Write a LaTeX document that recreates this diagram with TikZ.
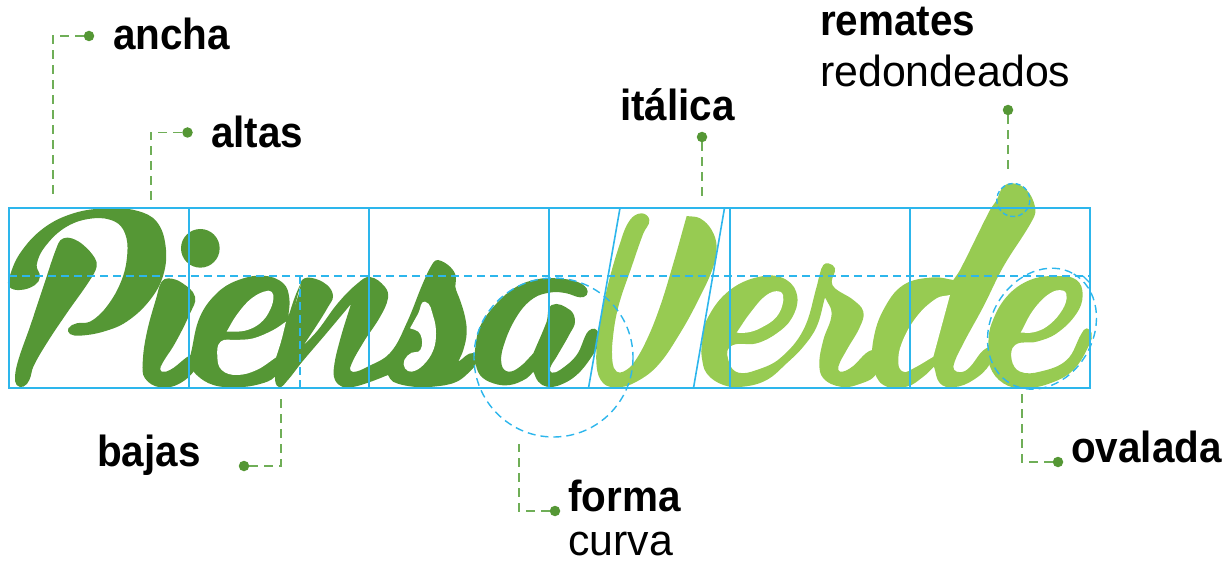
\documentclass[tikz,border=0pt]{standalone}
\usepackage{fontspec}
\setmainfont{Liberation Sans}
\newfontfamily\labb[FakeStretch=.93]{Liberation Sans Bold}
\newfontfamily\labr[FakeStretch=.985]{Liberation Sans}
\definecolor{dkgreen}{HTML}{559735}
\definecolor{ltgreen}{HTML}{97CB52}
\definecolor{guide}{HTML}{2DB6EC}
\definecolor{lead}{HTML}{6FAE57}
\tikzset{
  glyphdark/.style={fill=dkgreen,draw=none},
  glyphlight/.style={fill=ltgreen,draw=none},
  counter/.style={fill=white,draw=none},
  gridline/.style={draw=guide,line width=1.6pt},
  guidedash/.style={draw=guide,line width=1.4pt,dash pattern=on 8pt off 5pt},
  leader/.style={draw=lead,line width=1.3pt,dash pattern=on 9pt off 6pt},
  dot/.style={circle,fill=dkgreen,draw=none,minimum size=10.5pt,inner sep=0pt},
  boldlabel/.style={anchor=base west,inner sep=0pt,text=black,font=\labb\fontsize{43.5}{44}\selectfont},
  reglabel/.style={anchor=base west,inner sep=0pt,text=black,font=\labr\fontsize{43.5}{44}\selectfont}
}
% closed outline through x/y points; a doubled point makes a sharp corner
\newcommand{\traceglyph}[2]{%
  \gdef\gxs{}\gdef\gys{}%
  \foreach \gA/\gB [count=\gC] in {#2}{%
    \ifnum\gC=1 \xdef\gxs{\gA}\xdef\gys{\gB}\else\xdef\gxs{\gxs,\gA}\xdef\gys{\gys,\gB}\fi
    \xdef\gn{\gC}}%
  \pgfmathtruncatemacro\gm{\gn-1}%
  \gdef\gtx{}\gdef\gty{}%
  \foreach \gI in {0,...,\gm}{%
    \pgfmathtruncatemacro\gP{mod(\gI+\gn-1,\gn)}%
    \pgfmathtruncatemacro\gQ{mod(\gI+1,\gn)}%
    \pgfmathsetmacro\gDx{{\gxs}[\gQ]-{\gxs}[\gP]}%
    \pgfmathsetmacro\gDy{{\gys}[\gQ]-{\gys}[\gP]}%
    \pgfmathsetmacro\gLn{max(veclen(\gDx,\gDy),.01)}%
    \pgfmathsetmacro\gTx{\gDx/\gLn}%
    \pgfmathsetmacro\gTy{\gDy/\gLn}%
    \ifnum\gI=0 \xdef\gtx{\gTx}\xdef\gty{\gTy}\else\xdef\gtx{\gtx,\gTx}\xdef\gty{\gty,\gTy}\fi}%
  \pgfmathsetmacro\gSx{{\gxs}[0]}\pgfmathsetmacro\gSy{{\gys}[0]}%
  \fill[#1] (\gSx,\gSy) \foreach \gI in {0,...,\gm}{%
    \pgfextra{%
      \pgfmathtruncatemacro\gQ{mod(\gI+1,\gn)}%
      \pgfmathsetmacro\gUx{{\gxs}[\gI]}\pgfmathsetmacro\gUy{{\gys}[\gI]}%
      \pgfmathsetmacro\gVx{{\gxs}[\gQ]}\pgfmathsetmacro\gVy{{\gys}[\gQ]}%
      \pgfmathsetmacro\gLn{.36*veclen(\gVx-\gUx,\gVy-\gUy)}%
      \pgfmathsetmacro\gAx{\gUx+\gLn*{\gtx}[\gI]}\pgfmathsetmacro\gAy{\gUy+\gLn*{\gty}[\gI]}%
      \pgfmathsetmacro\gBx{\gVx-\gLn*{\gtx}[\gQ]}\pgfmathsetmacro\gBy{\gVy-\gLn*{\gty}[\gQ]}%
    }
    .. controls (\gAx,\gAy) and (\gBx,\gBy) .. (\gVx,\gVy)
  } -- cycle;%
}
\begin{document}
\begin{tikzpicture}[x=1pt,y=-1pt]
\useasboundingbox (0,0) rectangle (1231,561);
%% ---- Piensa (zoom 1 coordinates)
\begin{scope}[shift={(0,190)},x=.33333pt,y=-.33333pt]
\traceglyph{glyphdark}{190/145,215/145,250/165,285/205,290/230,270/270,200/370,140/460,100/530,88/570,70/590,50/585,45/560,55/510,90/410,130/290,175/160}
\traceglyph{glyphdark}{27/265,60/190,130/115,220/70,320/55,410/62,470/95,497/170,490/255,450/330,380/395,310/425,240/437,210/432,205/415,230/400,270/395,320/350,365/270,382/190,375/130,345/95,280/85,200/110,135/170,110/225,120/260,105/285,60/300,27/290}
\traceglyph{glyphdark}{505/265,545/278,585/320,570/370,525/460,482/530,485/545,510/540,590/490,590/530,540/580,480/592,435/565,428/520,440/430,470/320,485/275}
\fill[glyphdark] (601,175) circle[radius=58];
\end{scope}
%% e of Piensa with first stem of n (zoom 5)
\begin{scope}[shift={(180,260)},x=.33333pt,y=-.33333pt]
\traceglyph{glyphdark}{35/270,60/170,110/100,170/62,250/47,310/70,328/115,325/170,325/170,345/110,362/70,362/70,330/200,310/300,285/350,240/372,170/382,100/375,50/345,30/310}
\end{scope}
%% n and s together (page coordinates)
\traceglyph{glyphdark}{302/280,312/278,327/285,333/296,328/307,315/328,303/346,303/346,318/330,338/303,358/283,370/277,385/287,388/298,380/317,363/343,350/368,353/372,367/367,390/353,406.7/323,423/283,433/263,438/260,450/266.7,456/276.7,455.3/286.7,460/300,465/316.7,466.7/333,463.3/350,458.3/361.7,458.3/361.7,473.3/353,476/363,473.3/368,456.7/381.7,433/386.7,413/386.7,393/381.7,388/375,388/375,370/382,353/387,343/387,335/380,334/367,340/340,351/304,351/304,325/335,302/362,287/381,279/387,275/378,278/360,290/320,300/290}
\begin{scope}[shift={(180,260)},x=.33333pt,y=-.33333pt]
\traceglyph{counter}{140/215,140/215,170/165,215/115,265/92,280/105,270/150,240/190,195/212}
\traceglyph{counter}{122/245,170/240,220/235,280/210,318/185,318/185,303/245,288/292,288/292,230/330,170/345,125/330,112/290}
\end{scope}
%% s counter and a (zoom 6)
\begin{scope}[shift={(370,250)},x=.33333pt,y=-.33333pt]
\traceglyph{counter}{165/155,190/200,198/250,190/300,160/345,125/365,105/355,103/330,125/308,145/305,155/290,155/265,145/245,120/235,120/235,145/190}
\traceglyph{glyphdark}{315/300,330/230,380/160,440/110,500/88,560/85,620/95,650/115,650/135,630/142,590/130,545/127,490/145,440/200,400/290,395/345,415/365,450/350,490/310,490/310,530/215,545/165,600/180,615/215,600/250,560/320,540/355,545/368,570/360,620/315,650/250,665/237,680/240,690/270,665/320,620/375,570/405,530/410,505/395,490/365,490/365,470/385,420/405,370/400,330/375,315/330}
\end{scope}
%% ---- Verde (zoom 3 coordinates)
\begin{scope}[shift={(590,190)},x=.33333pt,y=-.33333pt]
\traceglyph{glyphlight}{155/70,178/90,160/130,125/230,85/350,68/450,68/520,80/545,100/545,130/520,170/450,210/350,250/220,290/78,290/78,330/85,365/120,380/170,370/230,330/320,270/430,200/530,130/580,80/592,40/580,20/530,25/430,50/300,90/160,120/90}
\traceglyph{glyphlight}{335/470,350/390,420/300,520/258,590/270,622/320,605/385,560/430,500/460,420/470,418/520,445/548,500/540,570/505,640/420,680/290,690/250,700/225,715/220,735/235,725/275,735/295,790/330,820/365,810/410,770/480,745/530,750/545,780/535,860/480,860/550,800/585,750/590,700/565,688/520,700/450,725/370,705/322,705/322,680/410,640/470,590/520,530/570,460/590,400/585,350/550,335/500}
\traceglyph{counter}{440/428,440/428,480/370,530/315,570/305,580/330,560/380,510/415,470/428}
\end{scope}
%% d and final e (zoom 4 coordinates)
\begin{scope}[shift={(890,170)},x=.33333pt,y=-.33333pt]
\traceglyph{glyphlight}{-50/510,-20/420,40/345,130/322,190/330,190/330,210/300,300/120,320/90,340/50,370/40,410/60,435/110,430/145,340/290,280/410,215/530,190/590,200/605,230/600,300/530,300/580,250/630,190/652,150/640,132/590,132/590,100/620,50/650,-20/645,-50/590}
\traceglyph{counter}{180/375,180/375,140/385,80/440,35/520,25/580,40/605,70/595,130/560,130/560}
\traceglyph{glyphlight}{295/520,305/460,350/380,420/330,500/318,560/330,578/375,560/430,500/490,440/515,375/525,365/570,390/605,450/605,530/570,575/490,590/475,605/490,600/520,550/600,480/640,400/655,340/640,300/590}
\traceglyph{counter}{392/488,392/488,430/420,480/370,520/362,530/385,510/430,470/470,430/487}
\end{scope}
%% ---- guides
\draw[gridline] (9,208) rectangle (1090,388);
\draw[gridline] (189,208) -- (189,388);
\draw[gridline] (369,208) -- (369,388);
\draw[gridline] (549,208) -- (549,388);
\draw[gridline] (730,208) -- (730,388);
\draw[gridline] (910,208) -- (910,388);
\draw[gridline] (620,208) -- (588.5,388);
\draw[gridline] (724.5,208) -- (693.5,388);
\draw[guidedash] (9,276) -- (1090,276);
\draw[guidedash] (300,276) -- (300,387);
\draw[draw=guide,line width=1.2pt] (1083,276) -- (1090,283);
\draw[guidedash] (553.5,357.5) circle[radius=79.5];
\draw[guidedash,dash pattern=on 5pt off 3pt] (1013.3,200) circle[radius=16.5];
\draw[guidedash,shift={(1042,328.7)},rotate=60] (0,0) circle[x radius=63.3,y radius=51.2];
%% ---- leaders and labels
\node[dot] (dancha) at (89,36) {};
\coordinate (eancha) at (53,200);
\draw[leader] (dancha) -| (eancha);
\node[boldlabel] (lancha) at (113,50) {ancha};
\node[dot] (daltas) at (187.5,132.5) {};
\coordinate (ealtas) at (151,200);
\draw[leader] (daltas) -| (ealtas);
\node[boldlabel] (laltas) at (211,147.5) {altas};
\node[dot] (dital) at (702,137) {};
\coordinate (eital) at (702,200);
\draw[leader] (dital) -- (eital);
\node[boldlabel] (lital) at (620,121) {itálica};
\node[dot] (dremat) at (1008,110) {};
\coordinate (eremat) at (1008,175);
\draw[leader] (dremat) -- (eremat);
\node[boldlabel] (lremat) at (820,36) {remates};
\node[reglabel] (lredon) at (820,86.5) {redondeados};
\node[dot] (dbajas) at (244,466) {};
\coordinate (ebajas) at (281,398);
\draw[leader] (dbajas) -| (ebajas);
\node[boldlabel] (lbajas) at (97,466) {bajas};
\node[dot] (dforma) at (555,511) {};
\coordinate (eforma) at (519,444);
\draw[leader] (dforma) -| (eforma);
\node[boldlabel] (lforma) at (568,511) {forma};
\node[reglabel] (lcurva) at (568,555) {curva};
\node[dot] (doval) at (1058,462) {};
\coordinate (eoval) at (1022,394);
\draw[leader] (doval) -| (eoval);
\node[boldlabel] (loval) at (1071,462) {ovalada};
\end{tikzpicture}
\end{document}
